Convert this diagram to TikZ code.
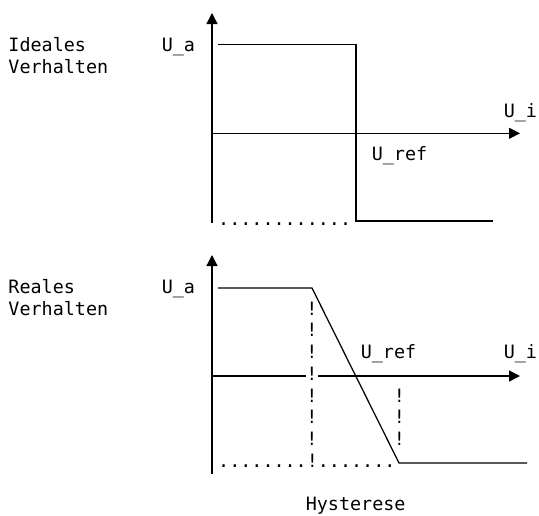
\documentclass[tikz,border=0pt]{standalone}
\usepackage{fontspec}
\setmonofont{DejaVu Sans Mono}
\usetikzlibrary{arrows.meta}
\begin{document}
\begin{tikzpicture}[x=1pt,y=-1pt,
  txt/.style={font=\ttfamily\fontsize{18.4}{21.7}\selectfont, inner sep=0pt, anchor=base west},
  bang/.style={font=\ttfamily\fontsize{18.4}{21.7}\selectfont, inner sep=0pt, anchor=base},
  bangw/.style={bang, fill=white, minimum width=9.5pt},
  ln/.style={line width=1.25pt, line join=miter},
  axis/.style={ln, -{Triangle[length=11pt,width=11pt]}}]
\useasboundingbox (0,0) rectangle (539,515);
% ---------- top chart ----------
\coordinate (t0) at (212,223);
\coordinate (tY) at (212,13);
\coordinate (tA) at (212,133.3);
\coordinate (tX) at (520,133.3);
\coordinate (t1) at (218,44.5);
\coordinate (t2) at (356,44.5);
\coordinate (t3) at (356,221);
\coordinate (t4) at (493,221);
\draw[axis] (t0) -- (tY);
\draw[axis] (tA) -- (tX);
\draw[ln] (t1) -- (t2) -- (t3) -- (t4);
\node[txt] (ideal1) at (8.3,51.7) {Ideales};
\node[txt] (ideal2) at (8.3,73.4) {Verhalten};
\node[txt] (tua) at (161.6,51.7) {U\_a};
\node[txt] (tui) at (503.6,117.5) {U\_i};
\node[txt] (turef) at (371.6,160.5) {U\_ref};
\node[txt] (tdots) at (218,225.5) {............};
% ---------- bottom chart ----------
\coordinate (b0) at (212,474);
\coordinate (bY) at (212,255);
\coordinate (bA) at (212,376);
\coordinate (bX) at (520,376);
\coordinate (b1) at (218,288);
\coordinate (b2) at (312,288);
\coordinate (b3) at (399,463);
\coordinate (b4) at (527,463);
\draw[axis] (b0) -- (bY);
\draw[axis] (bA) -- (bX);
\draw[ln] (b1) -- (b2) -- (b3) -- (b4);
\node[txt] (real1) at (8.3,293.3) {Reales};
\node[txt] (real2) at (8.3,315) {Verhalten};
\node[txt] (bua) at (161.6,293.3) {U\_a};
\node[txt] (bui) at (503.6,358.5) {U\_i};
\node[txt] (buref) at (360.6,358.5) {U\_ref};
\node[txt] (bdots) at (218,467.5) {........!.......};
\foreach \r/\s in {1/bang,2/bang,3/bang,4/bangw,5/bang,6/bang,7/bang}
  \node[\s] (h\r) at (312,{293.3+\r*21.75}) {!};
\foreach \r in {5,6,7}
  \node[bang] (k\r) at (399.3,{293.3+\r*21.75}) {!};
\node[txt] (hyst) at (305.6,510.5) {Hysterese};
\end{tikzpicture}
\end{document}
